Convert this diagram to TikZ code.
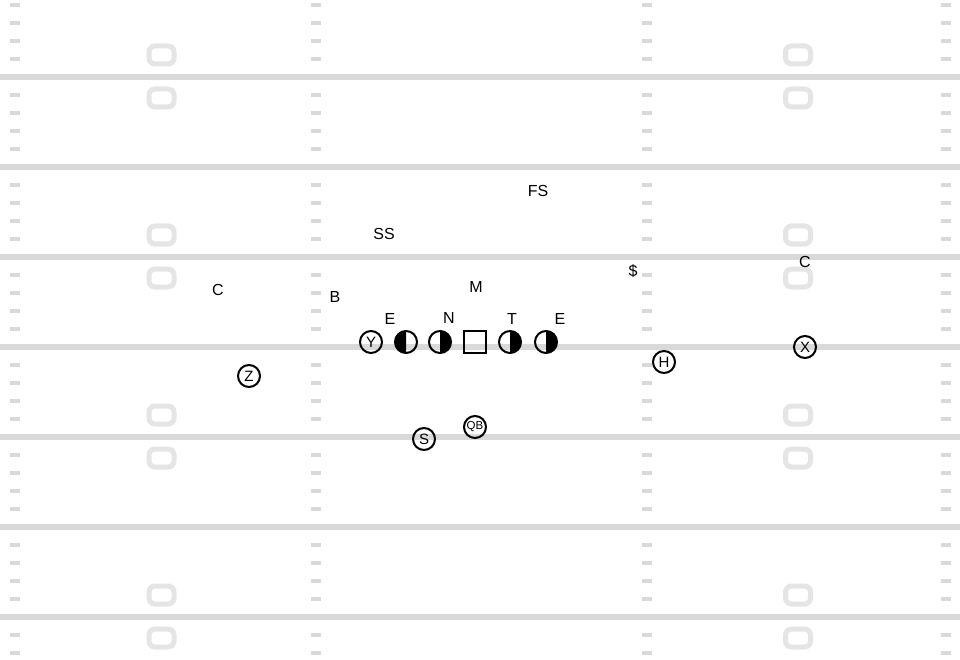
\documentclass[tikz,border=0pt]{standalone}
\usepackage{fontspec}
\setmainfont{Liberation Sans}
\definecolor{fieldgray}{gray}{0.85}
\definecolor{numgray}{gray}{0.9}
\begin{document}
\begin{tikzpicture}[x=1pt, y=-1pt,
  every node/.style={font=\fontsize{16}{18}\selectfont, inner sep=0pt},
  yardline/.style={line width=5.5pt, draw=fieldgray},
  hashmark/.style={line width=4.5pt, draw=fieldgray},
  yardnum/.style={line width=5pt, draw=numgray, rounded corners=6pt},
  player/.style={shape=circle, draw, line width=2pt, outer sep=0pt, minimum size=22pt, font=\fontsize{15}{16}\selectfont},
  snapbox/.style={shape=rectangle, draw, line width=2pt, outer sep=0pt, minimum size=22pt}]
  \fill[white] (0,0) rectangle (960,660);
  \useasboundingbox (0,0) rectangle (960,660);
  \foreach \k in {0,...,6}
    \draw[yardline] (0,77+90*\k) -- (960,77+90*\k);
  \foreach \m in {0,...,36} {
    \pgfmathtruncatemacro{\r}{mod(\m,5)}
    \ifnum\r=4 \else
      \foreach \hx in {10,311,642,941}
        \draw[hashmark] (\hx,5+18*\m) -- (\hx+9.5,5+18*\m);
    \fi
  }
  \foreach \L in {77,257,437,617}
    \foreach \nx in {161.5,798} {
      \draw[yardnum] (\nx-12.5,\L-31) rectangle (\nx+12.5,\L-13);
      \draw[yardnum] (\nx-12.5,\L+12) rectangle (\nx+12.5,\L+30);
    }
  \node[player] (y) at (371,342) {Y};
  \node[player] (le) at (406,342) {};
  \node[player] (lg) at (440,342) {};
  \node[snapbox] (c) at (475,342) {};
  \node[player] (rg) at (510,342) {};
  \node[player] (re) at (546,342) {};
  \begin{scope}
    \clip (le.west |- le.north) rectangle (le.south);
    \fill (le.center) circle[radius=11pt];
  \end{scope}
  \foreach \p in {lg,rg,re} {
    \begin{scope}
      \clip (\p.south) rectangle (\p.east |- \p.north);
      \fill (\p.center) circle[radius=11pt];
    \end{scope}
  }
  \node[player] (z) at (249,376) {Z};
  \node[player] (h) at (664,362) {H};
  \node[player] (x) at (805,347) {X};
  \node[player] (s) at (424,439) {S};
  \node[player, font=\fontsize{11.5}{12}\selectfont] (qb) at (475,427) {QB};
  \node (de1) at (390,319) {E};
  \node (nt) at (449,318) {N};
  \node (dt) at (512,319) {T};
  \node (de2) at (560,319) {E};
  \node (mlb) at (476,287) {M};
  \node (ss) at (384,234) {SS};
  \node (fs) at (538,191) {FS};
  \node (blb) at (335,297) {B};
  \node (cb1) at (218,290) {C};
  \node (slb) at (633,271) {\$};
  \node (cb2) at (805,262) {C};
\end{tikzpicture}
\end{document}
